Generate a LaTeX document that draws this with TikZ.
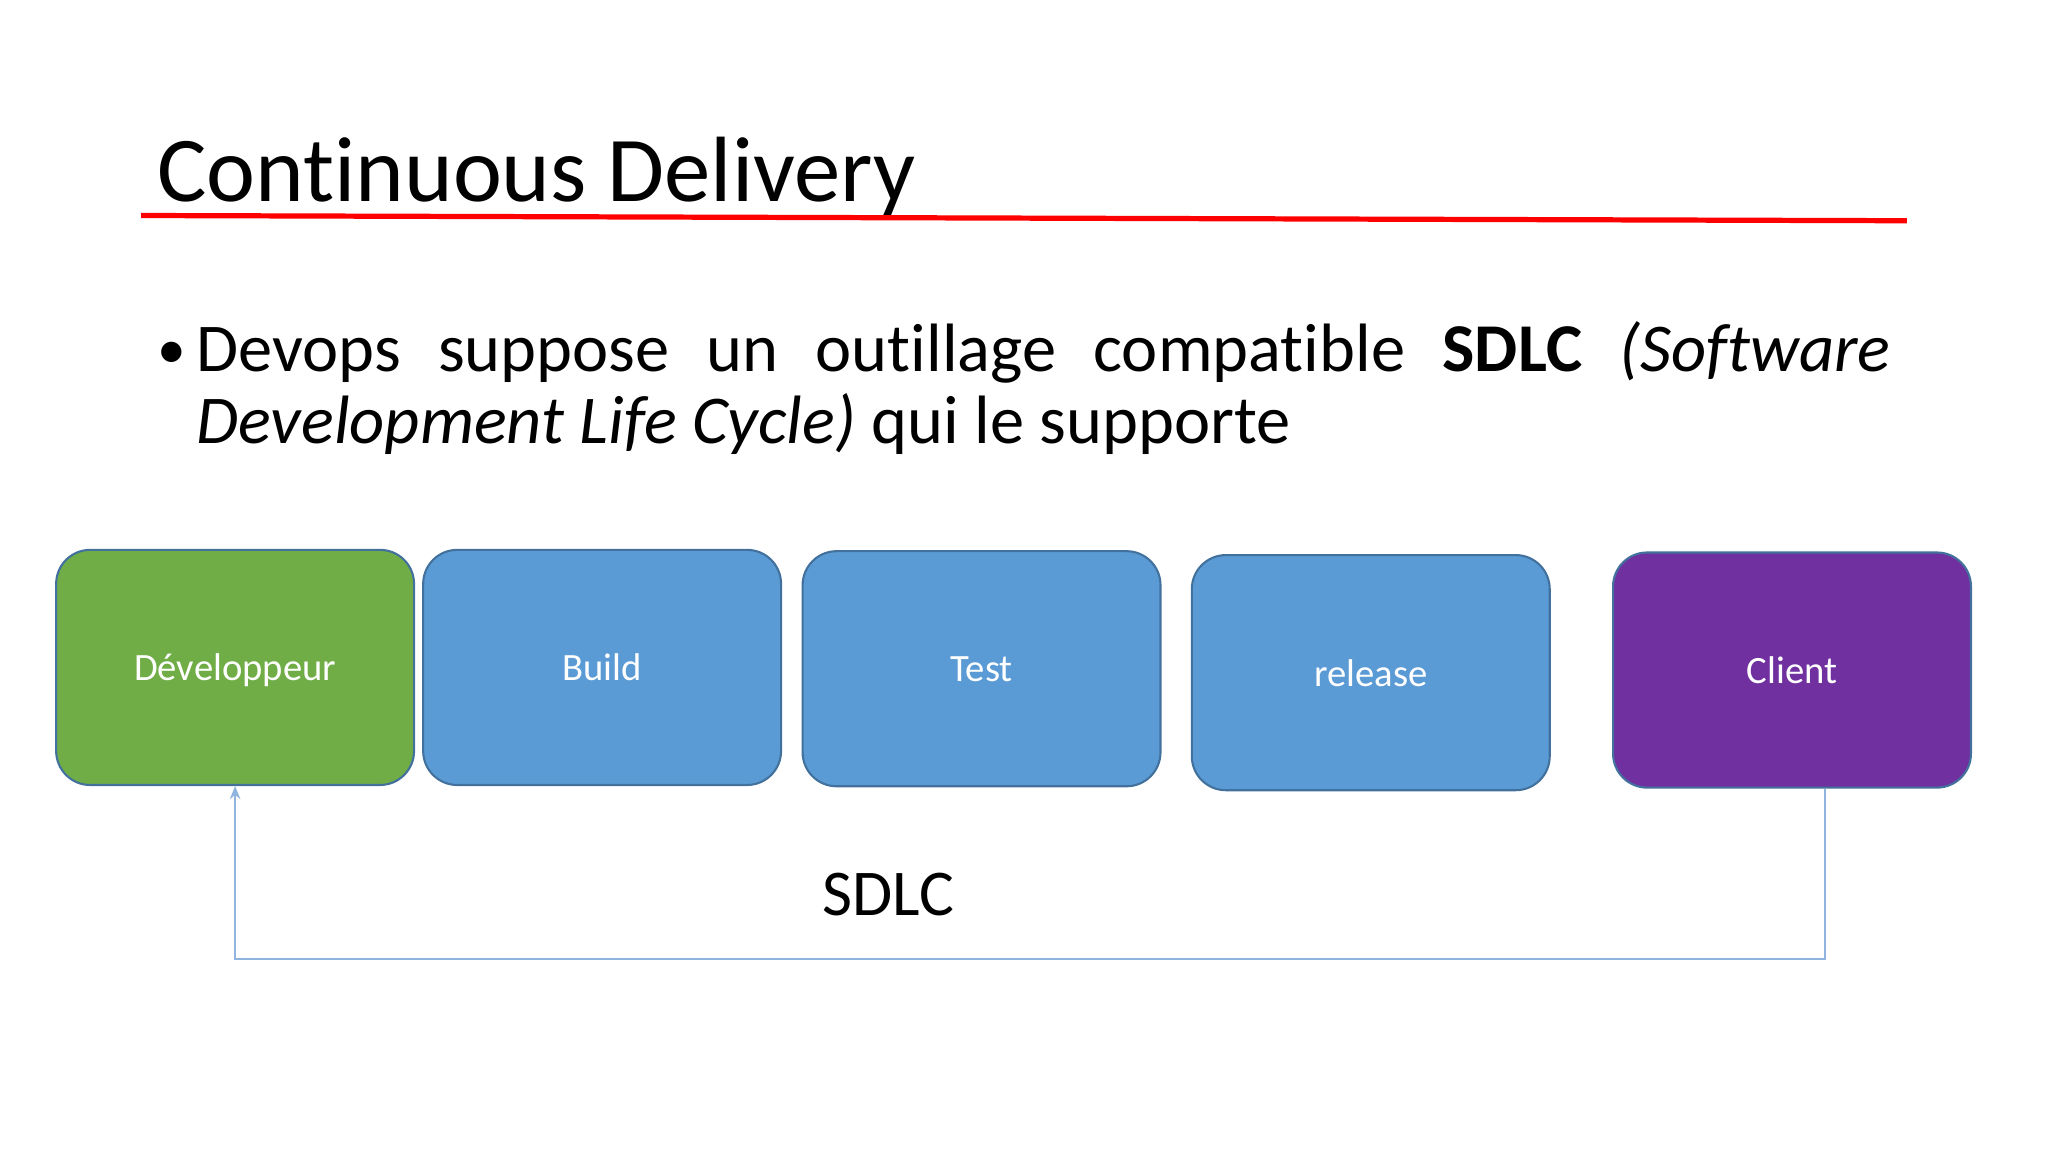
\documentclass[tikz,border=0pt]{standalone}
\usepackage{fontspec}
\setmainfont[Ligatures={NoCommon}]{Carlito}
\usetikzlibrary{arrows.meta}
\definecolor{dgreen}{HTML}{70AD47}
\definecolor{dblue}{HTML}{5B9BD5}
\definecolor{dpurple}{HTML}{7030A0}
\definecolor{edgeb}{HTML}{41719C}
\definecolor{conn}{HTML}{8FB4DE}
\tikzset{
  stage/.style={draw=edgeb, line width=0.8pt, rounded corners=13pt, minimum width=137pt, minimum height=90pt, text=white, font=\fontsize{14.8}{17}\selectfont, inner sep=0pt},
}
\begin{document}
\begin{tikzpicture}[x=0.5pt,y=-0.5pt]
\useasboundingbox[fill=white] (0,0) rectangle (1568,882);
\node[anchor=base west, inner sep=0pt, font=\fontsize{35.5}{40}\selectfont] (title) at (120,154) {Continuous Delivery};
\coordinate (r1) at (108,165); \coordinate (r2) at (1460,169);
\draw[red, line width=2pt] (r1) -- (r2);
\node[anchor=base west, inner sep=0pt, font=\fontsize{22}{30}\selectfont] (bul) at (120,282) {•};
\node[anchor=north west, inner sep=0pt, text width=648.5pt, align=justify, font=\fontsize{26.2}{27.5}\selectfont] (txt) at (150,246)
{\hyphenpenalty=10000 Devops suppose un outillage compatible \textbf{SDLC} \textit{(Software}\linebreak\textit{Development Life Cycle)} qui le supporte};
\node[stage, fill=dgreen, text depth=-2pt] (dev) at (180,511) {Développeur};
\node[stage, fill=dblue, text depth=-2pt] (build) at (461,511) {Build};
\node[stage, fill=dblue, text depth=-2pt] (test) at (751.5,512) {Test};
\node[stage, fill=dblue, text depth=-2pt] (rel) at (1049.5,515) {release};
\node[stage, fill=dpurple, text depth=-2pt] (cli) at (1372,513) {Client};
\node[font=\fontsize{25}{26}\selectfont, inner sep=0pt] (sdlc) at (680,685) {SDLC};
\coordinate (c1) at (1397,734); \coordinate (c2) at (180,734);
\draw[conn, line width=0.8pt, -{Stealth[length=5pt,width=4pt]}] (cli.south -| c1) -- (c1) -- (c2) -- (dev.south);
\end{tikzpicture}
\end{document}
